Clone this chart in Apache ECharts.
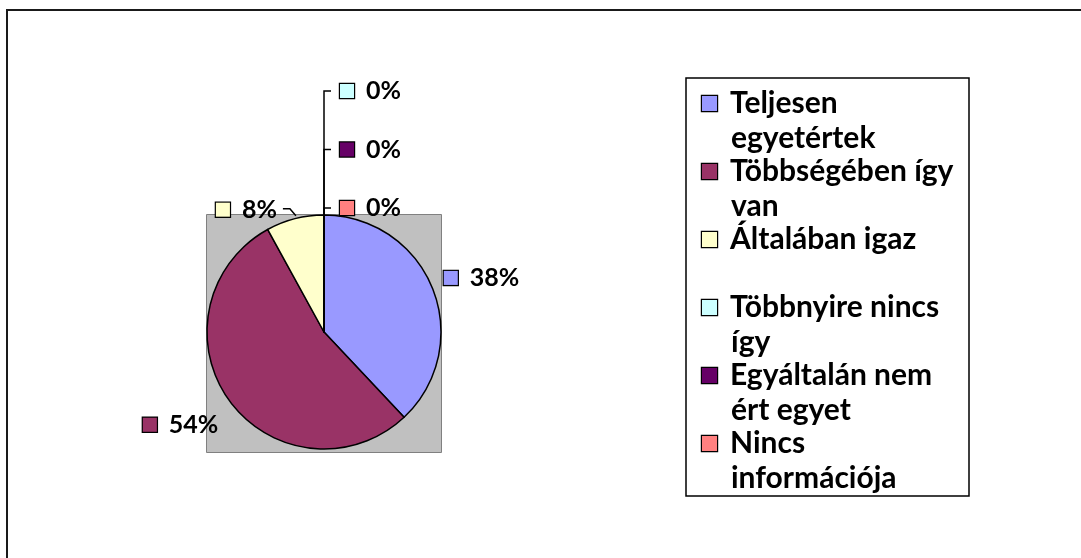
<!DOCTYPE html>
<html>
<head>
<meta charset="utf-8">
<script src="https://cdn.jsdelivr.net/npm/echarts@6/dist/echarts.min.js"></script>
<style>
html,body{margin:0;padding:0;background:#fff;}
#chart{width:1081px;height:558px;}
</style>
</head>
<body>
<div id="chart"></div>
<script>
// ---- data ----
const categories = [
  'Teljesen egyetértek',
  'Többségében így van',
  'Általában igaz',
  'Többnyire nincs így',
  'Egyáltalán nem ért egyet',
  'Nincs információja'
];
// legend text split into two lines as in the original
const legendLine1 = ['Teljesen', 'Többségében így', 'Általában igaz', 'Többnyire nincs', 'Egyáltalán nem', 'Nincs'];
const legendLine2 = ['egyetértek', 'van', ' ', 'így', 'ért egyet', 'információja'];
const values = [38, 54, 8, 0, 0, 0];
const colors = ['#9999FF', '#993366', '#FFFFCC', '#CCFFFF', '#660066', '#FF8080'];

// ---- layout ----
const CX = 324, CY = 332, R = 117;
const FONT = 'Lato';

const total = values.reduce((a, b) => a + b, 0);
function midAngle(i) { // degrees clockwise from 12 o'clock
  let s = 0;
  for (let k = 0; k < i; k++) s += values[k];
  return (s + values[i] / 2) / total * 360;
}
function edgePoint(i) {
  const a = midAngle(i) * Math.PI / 180;
  return [CX + R * Math.sin(a), CY - R * Math.cos(a)];
}

const rich = {
  g: { width: 12 },
  v: { fontFamily: FONT, fontWeight: 'bold', fontSize: 25, color: '#000' }
};
colors.forEach((c, i) => {
  rich['k' + i] = { width: 14, height: 14, backgroundColor: c, borderColor: '#000', borderWidth: 1.2 };
});

const legendRich = {
  t: { fontFamily: FONT, fontWeight: 'bold', fontSize: 30, color: '#000', lineHeight: 35, width: 226 },
  sp: { width: 13, lineHeight: 35 },
  ind: { width: 29, lineHeight: 35 }
};
colors.forEach((c, i) => {
  legendRich['k' + i] = { width: 15, height: 15, backgroundColor: c, borderColor: '#000', borderWidth: 1.2, lineHeight: 35 };
});

const zeroIdx = values.map((v, i) => v === 0 ? i : -1).filter(i => i >= 0);

function placeLabel(p) {
  const i = p.dataIndex;
  const [ex, ey] = edgePoint(i);
  if (values[i] === 0) {
    const topY = CY - R;
    const rank = zeroIdx.length - 1 - zeroIdx.indexOf(i);
    const y = topY - 7 - rank * 58.5;
    return {
      x: CX + 16, y: y, align: 'left', verticalAlign: 'middle',
      labelLinePoints: [[CX, topY], [CX, y], [CX + 7, y]]
    };
  }
  if (i === 0) {
    return { x: ex + 11, y: ey - 11, align: 'left', verticalAlign: 'middle' };
  }
  if (i === 1) {
    return { x: ex - 11, y: ey + 24, align: 'right', verticalAlign: 'middle' };
  }
  return {
    x: ex - 18, y: ey - 9, align: 'right', verticalAlign: 'middle',
    labelLinePoints: [[ex + 1, ey - 3], [ex - 5, ey - 10], [ex - 12, ey - 10]]
  };
}

const chart = echarts.init(document.getElementById('chart'), null, { renderer: 'canvas' });
chart.setOption({
  backgroundColor: '#fff',
  animation: false,
  graphic: [
    {
      type: 'rect', z: 0, silent: true,
      shape: { x: 7, y: 10, width: 1100, height: 600 },
      style: { fill: 'none', stroke: '#1a1a1a', lineWidth: 2 }
    },
    {
      type: 'rect', z: 0, silent: true,
      shape: { x: CX - R - 0.5, y: CY - R - 0.5, width: 2 * R + 1, height: 2 * R + 4 },
      style: { fill: '#C0C0C0', stroke: '#808080', lineWidth: 1 }
    }
  ],
  legend: {
    orient: 'vertical',
    left: 686,
    top: 78,
    padding: [8, 12, 0, 11],
    itemGap: -2,
    icon: 'none',
    itemWidth: 0,
    itemHeight: 14,
    selectedMode: false,
    backgroundColor: '#fff',
    borderColor: '#000',
    borderWidth: 1.5,
    data: categories,
    formatter: function (name) {
      const i = categories.indexOf(name);
      return '{k' + i + '|}{sp|}{t|' + legendLine1[i] + '}\n{ind|}{t|' + legendLine2[i] + '}';
    },
    textStyle: { rich: legendRich, lineHeight: 35 }
  },
  series: [{
    type: 'pie',
    z: 2,
    center: [CX, CY],
    radius: R,
    startAngle: 90,
    clockwise: true,
    avoidLabelOverlap: false,
    data: categories.map((n, i) => ({
      name: n,
      value: values[i],
      itemStyle: { color: colors[i] },
      labelLine: { show: i >= 2 }
    })),
    itemStyle: { borderColor: '#000', borderWidth: 1.5 },
    emphasis: { disabled: true },
    label: {
      show: true,
      position: 'outside',
      formatter: function (p) {
        return '{k' + p.dataIndex + '|}{g|}{v|' + Math.round(p.value / total * 100) + '%}';
      },
      rich: rich
    },
    labelLine: {
      show: true,
      length: 10,
      length2: 10,
      lineStyle: { color: '#000', width: 1.5 }
    },
    labelLayout: placeLabel
  }]
});
</script>
</body>
</html>
